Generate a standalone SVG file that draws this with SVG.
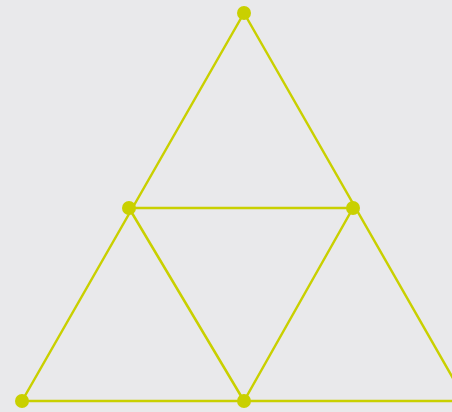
<svg xmlns="http://www.w3.org/2000/svg" width="452" height="412" viewBox="0 0 452 412">
<style>
.e{stroke:#c9d000;stroke-width:2.5;fill:none;stroke-linecap:round}
.n{fill:#c9d000}
</style>
<rect width="452" height="412" fill="#e9e9eb"/>
<g id="connectors">
<line class="e" x1="244" y1="13" x2="22" y2="401"/>
<line class="e" x1="244" y1="13" x2="466" y2="401"/>
<line class="e" x1="22" y1="401" x2="466" y2="401"/>
<line class="e" x1="129" y1="208" x2="353" y2="208"/>
<line class="e" x1="129" y1="208" x2="244" y2="401"/>
<line class="e" x1="353" y1="208" x2="244" y2="401"/>
</g>
<g id="n1"><circle class="n" cx="244" cy="13" r="7"/></g>
<g id="n2"><circle class="n" cx="129" cy="208" r="7"/></g>
<g id="n3"><circle class="n" cx="353" cy="208" r="7"/></g>
<g id="n4"><circle class="n" cx="22" cy="401" r="7"/></g>
<g id="n5"><circle class="n" cx="244" cy="401" r="7"/></g>
</svg>
